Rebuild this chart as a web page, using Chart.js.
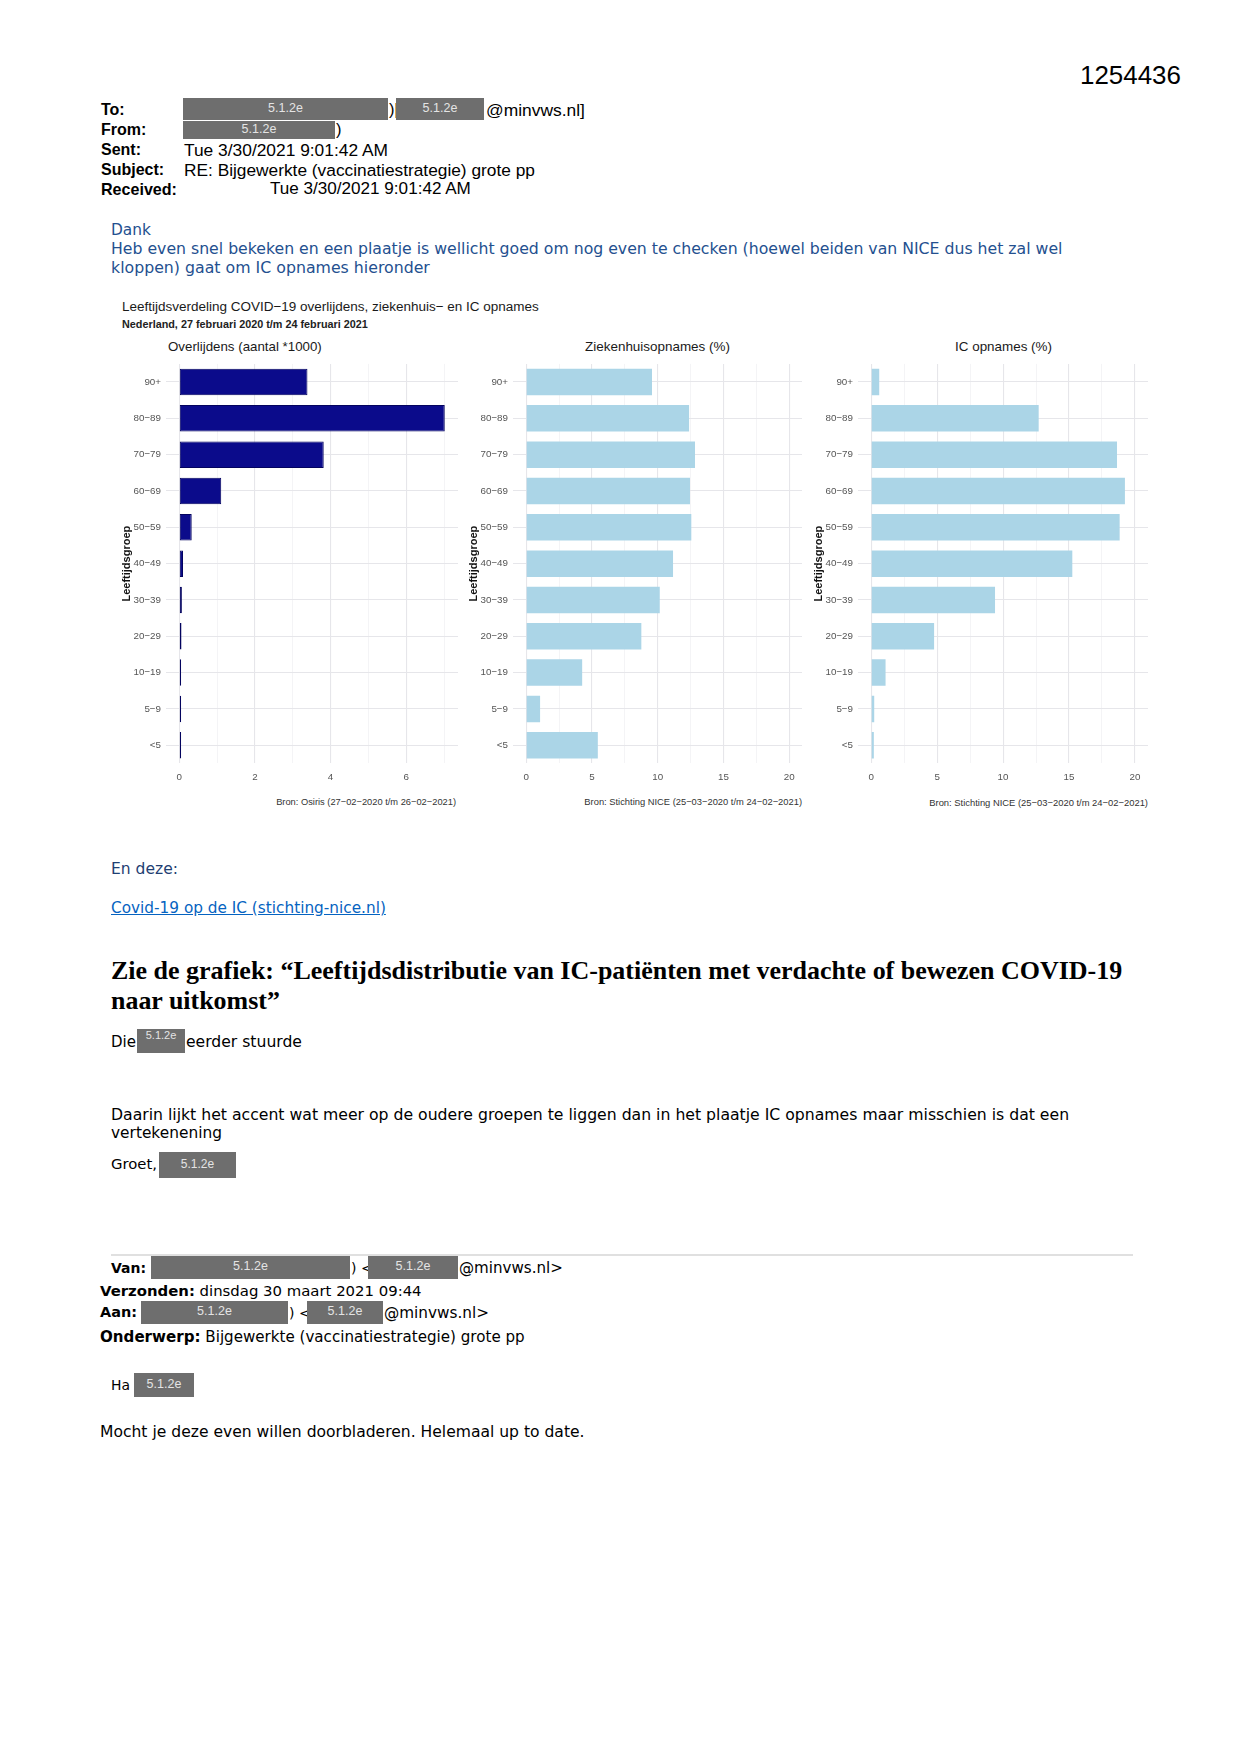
<!DOCTYPE html>
<html>
<head>
<meta charset="utf-8">
<script src="https://cdn.jsdelivr.net/npm/chart.js@4.4.1/dist/chart.umd.min.js"></script>
<style>
html,body{margin:0;padding:0;background:#fff;}
#page{position:relative;width:1241px;height:1754px;overflow:hidden;background:#fff;}
.t{position:absolute;white-space:nowrap;}
.red{position:absolute;background:#6e6e6e;color:#e4e4e4;font-family:"Liberation Sans",Arial,sans-serif;text-align:center;white-space:nowrap;}
.panel{position:absolute;}
a{color:#0563c1;text-decoration:underline;}
</style>
</head>
<body>
<div id="page"></div>
<script>
// ---------- data ----------
const ageGroups = ['90+','80\u221289','70\u221279','60\u221269','50\u221259','40\u221249','30\u221239','20\u221229','10\u221219','5\u22129','<5'];
const deaths   = [3.39, 7.02, 3.82, 1.11, 0.33, 0.10, 0.07, 0.06, 0.05, 0.05, 0.05];
const hospital = [9.57, 12.39, 12.84, 12.46, 12.56, 11.17, 10.16, 8.76, 4.26, 1.06, 5.45];
const icu      = [0.61, 12.70, 18.64, 19.24, 18.84, 15.25, 9.39, 4.77, 1.09, 0.23, 0.20];
const deathTicks = [0,1,2,3,4,5,6,7];
const pctTicks   = [0,2.5,5,7.5,10,12.5,15,17.5,20];
const panelTitles = ['Overlijdens (aantal *1000)','Ziekenhuisopnames (%)','IC opnames (%)'];
const sources = ['Bron: Osiris (27\u221202\u22122020 t/m 26\u221202\u22122021)','Bron: Stichting NICE (25\u221203\u22122020 t/m 24\u221202\u22122021)','Bron: Stichting NICE (25\u221203\u22122020 t/m 24\u221202\u22122021)'];
const yTitle = 'Leeftijdsgroep';

const page = document.getElementById('page');
const A = '"Liberation Sans", Arial, sans-serif';
const V = '"DejaVu Sans", Verdana, sans-serif';
const S = '"Liberation Serif", "Times New Roman", serif';

function txt(html, o){
  const d = document.createElement('div');
  d.className = 't';
  d.innerHTML = html;
  d.style.fontFamily = o.f || A;
  d.style.fontSize = o.s + 'px';
  d.style.fontWeight = o.b ? 'bold' : 'normal';
  d.style.color = o.c || '#000';
  d.style.lineHeight = '1.2';
  page.appendChild(d);
  let s = o.s;
  if (o.w){
    const w0 = d.getBoundingClientRect().width;
    s = o.s * o.w / w0;
    d.style.fontSize = s + 'px';
  }
  const lh = s * 1.2;
  d.style.lineHeight = lh + 'px';
  const w = d.getBoundingClientRect().width;
  let x = o.x;
  if (o.al === 'r') x = o.x - w; else if (o.al === 'c') x = o.x - w/2;
  d.style.left = x + 'px';
  d.style.top = (o.cy - lh/2) + 'px';
  return d;
}
function red(x1, x2, y1, y2, s, top){
  const d = document.createElement('div');
  d.className = 'red';
  d.textContent = '5.1.2e';
  d.style.left = x1 + 'px'; d.style.top = y1 + 'px';
  d.style.width = (x2 - x1) + 'px'; d.style.height = (y2 - y1) + 'px';
  d.style.fontSize = (s || 12.5) + 'px';
  d.style.lineHeight = top ? ((s||12)*1.25) + 'px' : (y2 - y1 - 2) + 'px';
  page.appendChild(d);
}

// ---------- header ----------
txt('1254436', {x:1080, cy:76, s:26, w:101});
txt('To:', {x:101, cy:110, s:16, b:1});
txt('From:', {x:101, cy:130, s:16, b:1});
txt('Sent:', {x:101, cy:150, s:16, b:1});
txt('Subject:', {x:101, cy:170, s:16, b:1});
txt('Received:', {x:101, cy:189.5, s:16, b:1, w:76});
red(183, 388, 98, 120);
txt(')[', {x:389, cy:110, s:16.5});
red(396, 484, 98, 120);
txt('@minvws.nl]', {x:486, cy:110, s:16.5, w:99});
red(183, 335, 121, 139);
txt(')', {x:336, cy:130, s:16.5});
txt('Tue 3/30/2021 9:01:42 AM', {x:184, cy:150, s:16.5, w:204});
txt('RE: Bijgewerkte (vaccinatiestrategie) grote pp', {x:184, cy:170, s:16.5, w:351});
txt('Tue 3/30/2021 9:01:42 AM', {x:270, cy:189.5, s:16.5, w:201});

// ---------- body top ----------
const BLUE = '#24508f';
txt('Dank', {x:111, cy:230, s:14, f:V, c:BLUE, w:40});
txt('Heb even snel bekeken en een plaatje is wellicht goed om nog even te checken (hoewel beiden van NICE dus het zal wel', {x:111, cy:249, s:14, f:V, c:BLUE, w:952});
txt('kloppen) gaat om IC opnames hieronder', {x:111, cy:268, s:14, f:V, c:BLUE, w:319});

// ---------- chart texts ----------
txt('Leeftijdsverdeling COVID\u221219 overlijdens, ziekenhuis\u2212 en IC opnames', {x:122, cy:307, s:12.5, c:'#1a1a1a', w:417});
txt('Nederland, 27 februari 2020 t/m 24 februari 2021', {x:122, cy:324, s:9.5, b:1, c:'#222', w:246});
txt(panelTitles[0], {x:168, cy:347, s:13, c:'#1a1a1a', w:154});
txt(panelTitles[1], {x:657.5, cy:347, s:13, c:'#1a1a1a', w:145, al:'c'});
txt(panelTitles[2], {x:1003.5, cy:347, s:13, c:'#1a1a1a', w:97, al:'c'});
txt(sources[0], {x:456, cy:803, s:8.5, c:'#333', w:180, al:'r'});
txt(sources[1], {x:802, cy:803, s:8.5, c:'#333', w:218, al:'r'});
txt(sources[2], {x:1148, cy:803, s:8.5, c:'#333', w:219, al:'r'});

// ---------- charts ----------
Chart.defaults.font.family = A;
Chart.defaults.color = '#555';

function panel(o){
  const yW = 46, xH = 28;
  const box = document.createElement('div');
  box.className = 'panel';
  const W0 = (o.area.right - o.area.left) + yW + 6;
  const H0 = (o.area.bottom - o.area.top) + 12 + xH;
  box.style.left = (o.area.left - yW) + 'px';
  box.style.top = (o.area.top - 12) + 'px';
  box.style.width = W0 + 'px';
  box.style.height = H0 + 'px';
  const cv = document.createElement('canvas');
  box.appendChild(cv);
  page.appendChild(box);
  const isMajor = v => Math.abs(v % o.majorStep) < 1e-9;
  const chart = new Chart(cv, {
    type: 'bar',
    data: {
      labels: ageGroups,
      datasets: [{
        data: o.data,
        backgroundColor: o.color,
        borderColor: o.border,
        borderWidth: o.bw,
        borderSkipped: false,
        barPercentage: 0.73,
        categoryPercentage: 1
      }]
    },
    options: {
      indexAxis: 'y',
      responsive: true,
      maintainAspectRatio: false,
      animation: false,
      layout: {padding: 0},
      plugins: {legend: {display: false}, tooltip: {enabled: false}, title: {display: false}},
      scales: {
        x: {
          type: 'linear', min: o.min, max: o.max,
          afterBuildTicks: s => { s.ticks = o.ticks.map(v => ({value: v})); },
          afterFit: s => { s.height = xH; },
          grid: {
            drawTicks: false,
            color: c => (c.tick && isMajor(c.tick.value)) ? '#e6e6ea' : '#f1f1f4',
            lineWidth: c => (c.tick && isMajor(c.tick.value)) ? 1.1 : 0.8
          },
          border: {display: false},
          ticks: {padding: 8, color: '#555', font: {size: 9.8}, autoSkip: false, maxRotation: 0,
                  callback: v => isMajor(v) ? String(v) : ''}
        },
        y: {
          type: 'category', offset: true,
          afterFit: s => { s.width = yW; },
          grid: {drawTicks: false, offset: false, color: '#e6e6ea', lineWidth: 1.1},
          border: {display: false},
          ticks: {padding: 5, color: '#555', font: {size: 9.8}, autoSkip: false},
          title: {display: true, text: yTitle, color: '#111', font: {size: 11, weight: 'bold'}, padding: 0}
        }
      }
    }
  });
  // align chart area to the target rectangle
  const a = chart.chartArea;
  const newW = W0 + (o.area.right - o.area.left) - (a.right - a.left);
  const newH = H0 + (o.area.bottom - o.area.top) - (a.bottom - a.top);
  box.style.width = newW + 'px';
  box.style.height = newH + 'px';
  chart.resize();
  const b = chart.chartArea;
  box.style.left = (o.area.left - b.left) + 'px';
  box.style.top = (o.area.top - b.top) + 'px';
  return chart;
}

const areaTop = 363.6, areaBottom = 763.1;
panel({data: deaths, color: '#0b0b8b', border: '#03035e', bw: 1,
       min: -0.35, max: 7.37, ticks: deathTicks, majorStep: 2,
       area: {left: 166, right: 458, top: areaTop, bottom: areaBottom}});
panel({data: hospital, color: '#abd5e7', border: '#abd5e7', bw: 0,
       min: -1, max: 21, ticks: pctTicks, majorStep: 5,
       area: {left: 512.8, right: 802.4, top: areaTop, bottom: areaBottom}});
panel({data: icu, color: '#abd5e7', border: '#abd5e7', bw: 0,
       min: -1, max: 21, ticks: pctTicks, majorStep: 5,
       area: {left: 858.1, right: 1148.5, top: areaTop, bottom: areaBottom}});

// ---------- body bottom ----------
txt('En deze:', {x:111, cy:869, s:14, f:V, c:'#1f3f73', w:67});
txt('<a>Covid-19 op de IC (stichting-nice.nl)</a>', {x:111, cy:908, s:14, f:V, w:275});
txt('Zie de grafiek: \u201cLeeftijdsdistributie van IC-pati\u00ebnten met verdachte of bewezen COVID-19', {x:111, cy:971, s:24, f:S, b:1, w:1012});
txt('naar uitkomst\u201d', {x:111, cy:1001, s:24, f:S, b:1, w:169});
txt('Die', {x:111, cy:1042, s:14, f:V, w:25});
red(137, 185, 1029, 1053, 11, true);
txt('eerder stuurde', {x:186, cy:1042, s:14, f:V, w:116});
txt('Daarin lijkt het accent wat meer op de oudere groepen te liggen dan in het plaatje IC opnames maar misschien is dat een', {x:111, cy:1115, s:14, f:V, w:959});
txt('vertekenening', {x:111, cy:1133, s:14, f:V, w:111});
txt('Groet,', {x:111, cy:1164, s:14, f:V, w:46});
red(159, 236, 1152, 1178, 12);

const hr = document.createElement('div');
hr.style.cssText = 'position:absolute;left:111px;top:1254px;width:1022px;height:2px;background:#e0e0e0;';
page.appendChild(hr);

txt('Van:', {x:111, cy:1268, s:14, f:V, b:1, w:35});
red(151, 350, 1256, 1279, 12.5);
txt(') &lt;', {x:351, cy:1268, s:14, f:V});
red(368, 458, 1256, 1279, 12.5);
txt('@minvws.nl&gt;', {x:459, cy:1268, s:14, f:V, w:104});
txt('<b>Verzonden:</b> dinsdag 30 maart 2021 09:44', {x:100, cy:1292, s:14, f:V, w:322});
txt('Aan:', {x:100, cy:1313, s:14, f:V, b:1, w:37});
red(141, 288, 1301, 1324, 12.5);
txt(') &lt;', {x:289, cy:1313, s:14, f:V});
red(307, 383, 1301, 1324, 12.5);
txt('@minvws.nl&gt;', {x:384, cy:1313, s:14, f:V, w:105});
txt('<b>Onderwerp:</b> Bijgewerkte (vaccinatiestrategie) grote pp', {x:100, cy:1337, s:14, f:V, w:425});
txt('Ha', {x:111, cy:1385, s:14, f:V, w:19});
red(134, 194, 1373, 1397, 12.5);
txt('Mocht je deze even willen doorbladeren. Helemaal up to date.', {x:100, cy:1432, s:14, f:V, w:485});
</script>
</body>
</html>
